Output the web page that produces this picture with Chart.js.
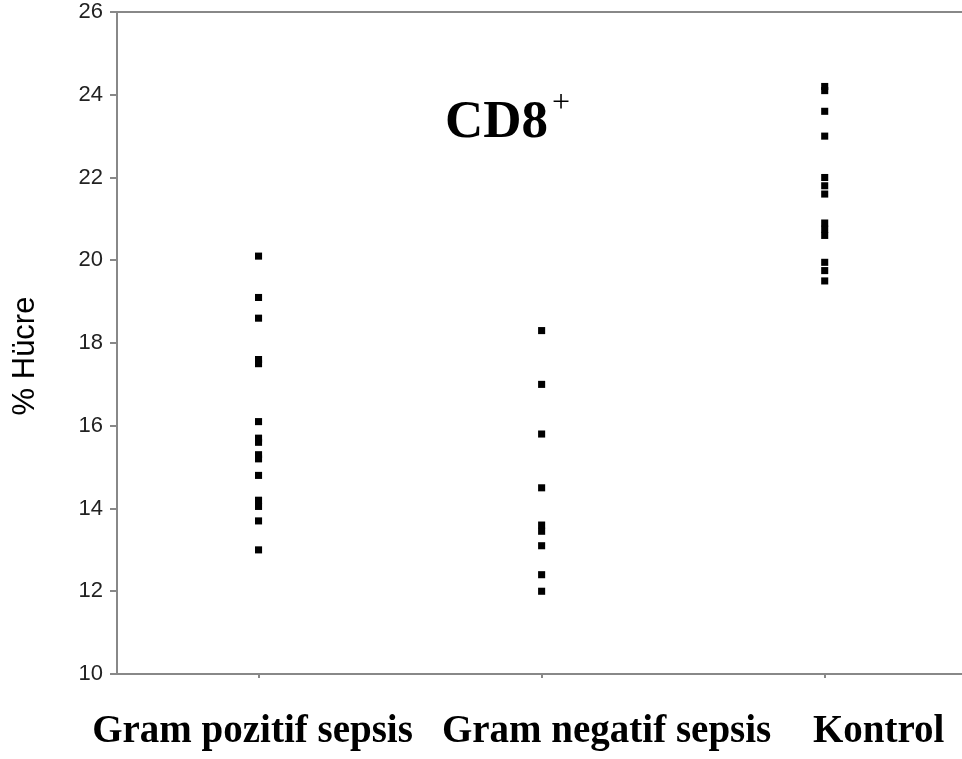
<!DOCTYPE html>
<html>
<head>
<meta charset="utf-8">
<script src="https://cdn.jsdelivr.net/npm/chart.js@4/dist/chart.umd.min.js"></script>
<style>
  html, body { margin: 0; padding: 0; background: #fff; overflow: hidden; }
  canvas { display: block; }
</style>
</head>
<body>
<canvas id="c" width="962" height="759"></canvas>
<script>
const categories = ['Gram pozitif sepsis', 'Gram negatif sepsis', 'Kontrol'];
const gramPozitif = [20.1, 19.1, 18.6, 17.6, 17.5, 16.1, 15.7, 15.6, 15.3, 15.2, 14.8, 14.2, 14.05, 13.7, 13.0];
const gramNegatif = [18.3, 17.0, 15.8, 14.5, 13.6, 13.45, 13.1, 12.4, 12.0];
const kontrol = [24.2, 24.1, 23.6, 23.0, 22.0, 21.8, 21.6, 20.9, 20.75, 20.6, 19.95, 19.75, 19.5];
const yTicks = [10, 12, 14, 16, 18, 20, 22, 24, 26];
const chartTitle = 'CD8';
const chartTitleSup = '+';
const yTitle = '% Hücre';

const groups = [gramPozitif, gramNegatif, kontrol];
const axisGray = '#888888';
// horizontal shift of each category caption relative to its tick (the captions are not centred on the ticks)
const captionShift = [-6, 65, 54];

const decorPlugin = {
  id: 'decor',
  afterDraw(chart) {
    const ctx = chart.ctx;
    const area = chart.chartArea;
    ctx.save();
    // top frame line
    ctx.strokeStyle = axisGray;
    ctx.lineWidth = 2;
    ctx.beginPath();
    ctx.moveTo(area.left, area.top);
    ctx.lineTo(chart.width, area.top);
    ctx.stroke();
    // title
    ctx.fillStyle = '#000';
    ctx.textAlign = 'left';
    ctx.textBaseline = 'alphabetic';
    ctx.font = 'bold 53px "Liberation Serif", "Times New Roman", serif';
    const x0 = 445, base = 137;
    ctx.fillText(chartTitle, x0, base);
    const w = ctx.measureText(chartTitle).width;
    ctx.font = '32px "Liberation Serif", "Times New Roman", serif';
    ctx.fillText(chartTitleSup, x0 + w + 4, 112);
    // category captions
    const xs = chart.scales.x;
    ctx.font = 'bold 39px "Liberation Serif", "Times New Roman", serif';
    ctx.textAlign = 'center';
    categories.forEach((c, i) => {
      ctx.fillText(c, xs.getPixelForValue(i) + captionShift[i], 742);
    });
    // y axis title (sits a little below the centre of the axis)
    ctx.translate(34, 356);
    ctx.rotate(-Math.PI / 2);
    ctx.font = '31px "Liberation Sans", Arial, sans-serif';
    ctx.textAlign = 'center';
    ctx.textBaseline = 'alphabetic';
    ctx.fillText(yTitle, 0, 0);
    ctx.restore();
  }
};

new Chart(document.getElementById('c'), {
  type: 'scatter',
  data: {
    datasets: groups.map((vals, i) => ({
      label: categories[i],
      data: vals.map(v => ({ x: i, y: v })),
      pointStyle: 'rect',
      pointRadius: 5,
      pointHoverRadius: 5,
      backgroundColor: '#000',
      borderColor: '#000',
      borderWidth: 0
    }))
  },
  options: {
    responsive: false,
    animation: false,
    events: [],
    layout: { autoPadding: false, padding: { top: 0, right: 0, bottom: 0, left: 0 } },
    plugins: {
      legend: { display: false },
      tooltip: { enabled: false },
      title: { display: false }
    },
    scales: {
      x: {
        type: 'linear',
        position: 'bottom',
        min: -0.5,
        max: 2.485,
        afterBuildTicks: s => { s.ticks = categories.map((c, i) => ({ value: i })); },
        afterFit: s => { s.height = 85; s.paddingLeft = 0; s.paddingRight = 0; },
        ticks: { display: false },
        grid: { drawOnChartArea: false, tickLength: 4, color: axisGray, lineWidth: 2 },
        border: { display: true, color: axisGray, width: 2 }
      },
      y: {
        min: 10,
        max: 26,
        afterBuildTicks: s => { s.ticks = yTicks.map(v => ({ value: v })); },
        afterFit: s => { s.width = 117; s.paddingTop = 12; s.paddingBottom = 0; },
        ticks: {
          padding: 7,
          color: '#222',
          font: { family: '"Liberation Sans", Arial, sans-serif', size: 22, lineHeight: 1.1 }
        },
        grid: { drawOnChartArea: false, tickLength: 7, color: axisGray, lineWidth: 2 },
        border: { display: true, color: axisGray, width: 2 },
        title: { display: false }
      }
    }
  },
  plugins: [decorPlugin]
});
</script>
</body>
</html>
